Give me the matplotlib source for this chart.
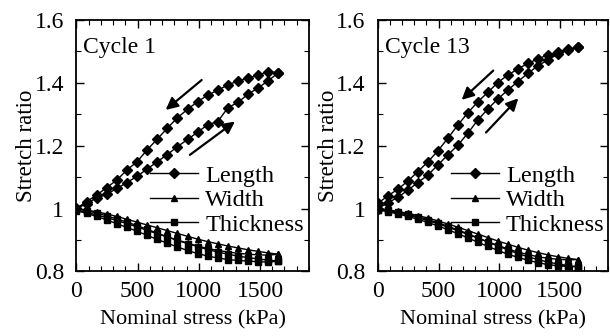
import numpy as np
import matplotlib
matplotlib.use("Agg")
import matplotlib.pyplot as plt
from matplotlib.ticker import MultipleLocator, FormatStrFormatter

plt.rcParams['font.family'] = ['Liberation Serif', 'DejaVu Serif']
plt.rcParams['font.size'] = 16

# nominal stress grid (kPa), same for loading and unloading
stress = [0, 82.5, 165, 247.5, 330, 412.5, 495, 577.5, 660, 742.5, 825,
          907.5, 990, 1072.5, 1155, 1237.5, 1320, 1402.5, 1485, 1567.5, 1650]

# cycle 1 (values listed in order of increasing stress)
c1_length_load = [1.000, 1.016, 1.034, 1.046, 1.064, 1.083, 1.103, 1.126, 1.149, 1.172, 1.197,
                  1.220, 1.243, 1.267, 1.277, 1.321, 1.338, 1.364, 1.384, 1.407, 1.432]
c1_length_unload = [1.001, 1.022, 1.043, 1.067, 1.091, 1.123, 1.149, 1.187, 1.221, 1.256, 1.289,
                    1.316, 1.340, 1.361, 1.377, 1.393, 1.407, 1.415, 1.425, 1.436, 1.432]
c1_width_load = [1.000, 0.995, 0.990, 0.983, 0.975, 0.966, 0.957, 0.948, 0.939, 0.930, 0.921,
                 0.912, 0.903, 0.895, 0.888, 0.881, 0.875, 0.869, 0.864, 0.859, 0.855]
c1_width_unload = [0.995, 0.988, 0.980, 0.971, 0.962, 0.952, 0.942, 0.931, 0.920, 0.910, 0.900,
                   0.890, 0.881, 0.873, 0.867, 0.862, 0.858, 0.855, 0.853, 0.852, 0.855]
c1_thick_load = [1.000, 0.993, 0.986, 0.977, 0.967, 0.957, 0.946, 0.934, 0.922, 0.910, 0.899,
                 0.889, 0.879, 0.870, 0.862, 0.855, 0.849, 0.844, 0.840, 0.836, 0.833]
c1_thick_unload = [0.993, 0.985, 0.975, 0.964, 0.952, 0.940, 0.928, 0.915, 0.902, 0.890, 0.878,
                   0.867, 0.857, 0.849, 0.843, 0.838, 0.835, 0.833, 0.831, 0.830, 0.833]

# cycle 13
c13_length_load = [1.000, 1.019, 1.036, 1.059, 1.083, 1.107, 1.139, 1.171, 1.202, 1.240, 1.282,
                   1.317, 1.349, 1.377, 1.404, 1.430, 1.454, 1.473, 1.491, 1.505, 1.513]
c13_length_unload = [1.017, 1.041, 1.062, 1.088, 1.118, 1.149, 1.184, 1.224, 1.266, 1.305, 1.340,
                     1.370, 1.401, 1.425, 1.444, 1.462, 1.476, 1.489, 1.499, 1.508, 1.513]
c13_width_load = [1.000, 0.996, 0.991, 0.985, 0.978, 0.970, 0.961, 0.951, 0.941, 0.930, 0.919,
                  0.908, 0.897, 0.887, 0.877, 0.868, 0.860, 0.853, 0.847, 0.842, 0.838]
c13_width_unload = [0.997, 0.992, 0.986, 0.979, 0.971, 0.962, 0.952, 0.941, 0.930, 0.918, 0.906,
                    0.894, 0.883, 0.872, 0.862, 0.854, 0.847, 0.842, 0.839, 0.837, 0.838]
c13_thick_load = [1.000, 0.995, 0.989, 0.982, 0.974, 0.965, 0.955, 0.944, 0.932, 0.920, 0.907,
                  0.894, 0.881, 0.869, 0.857, 0.847, 0.838, 0.830, 0.824, 0.819, 0.815]
c13_thick_unload = [0.996, 0.990, 0.983, 0.975, 0.966, 0.956, 0.945, 0.933, 0.920, 0.907, 0.893,
                    0.880, 0.867, 0.855, 0.845, 0.836, 0.828, 0.822, 0.818, 0.816, 0.815]

panels = [
    ("Cycle 1", [c1_length_load, c1_length_unload], [c1_width_load, c1_width_unload],
     [c1_thick_load, c1_thick_unload],
     [((1023, 1.409), (729, 1.314)), ((927, 1.171), (1295, 1.277))]),
    ("Cycle 13", [c13_length_load, c13_length_unload], [c13_width_load, c13_width_unload],
     [c13_thick_load, c13_thick_unload],
     [((952, 1.439), (691, 1.346)), ((892, 1.242), (1159, 1.351))]),
]

fig = plt.figure(figsize=(6.1, 3.36), dpi=100)
axes = [fig.add_axes([0.1254, 0.192, 0.3811, 0.7485]),
        fig.add_axes([0.6197, 0.192, 0.3770, 0.7485])]

for ax, (title, L, W, T, arrows) in zip(axes, panels):
    for (load, unload), mk, ms, lab in [(L, 'D', 5.5, 'Length'), (W, '^', 4.5, 'Width'),
                                        (T, 's', 4.5, 'Thickness')]:
        xs = list(stress) + list(stress[::-1])
        ys = list(load) + list(unload[::-1])
        ax.plot(xs, ys, color='k', lw=1, marker=mk, ms=ms, mfc='k', mec='k', label=lab)
    for start, end in arrows:
        ax.annotate('', xy=end, xytext=start,
                    arrowprops=dict(arrowstyle='-|>', lw=1.6, color='k', mutation_scale=18,
                                    shrinkA=0, shrinkB=0))
    ax.set_xlim(0, 1900)
    ax.set_ylim(0.8, 1.6)
    ax.xaxis.set_major_locator(MultipleLocator(500))
    ax.xaxis.set_minor_locator(MultipleLocator(100))
    ax.yaxis.set_major_locator(MultipleLocator(0.2))
    ax.yaxis.set_minor_locator(MultipleLocator(0.1))
    ax.yaxis.set_major_formatter(FormatStrFormatter('%g'))
    ax.tick_params(which='both', direction='in', top=True, right=True, labelsize=17)
    ax.tick_params(axis='x', pad=7)
    ax.tick_params(axis='y', pad=9)
    ax.tick_params(which='major', length=6, width=1)
    ax.tick_params(which='minor', length=3.5, width=0.8)
    for s in ax.spines.values():
        s.set_linewidth(1.3)
    ax.set_xlabel('Nominal stress (kPa)', fontsize=16, labelpad=6)
    ax.set_ylabel('Stretch ratio', fontsize=16.5, labelpad=-2)
    ax.text(0.03, 0.89, title, transform=ax.transAxes, fontsize=17, va='center', ha='left')
    ax.legend(loc='upper left', bbox_to_anchor=(0.316, 0.425), frameon=False, fontsize=17.5,
              handlelength=1.98, handletextpad=0.29, labelspacing=0.1, borderpad=0,
              borderaxespad=0)

fig.savefig('out.png', dpi=100)
